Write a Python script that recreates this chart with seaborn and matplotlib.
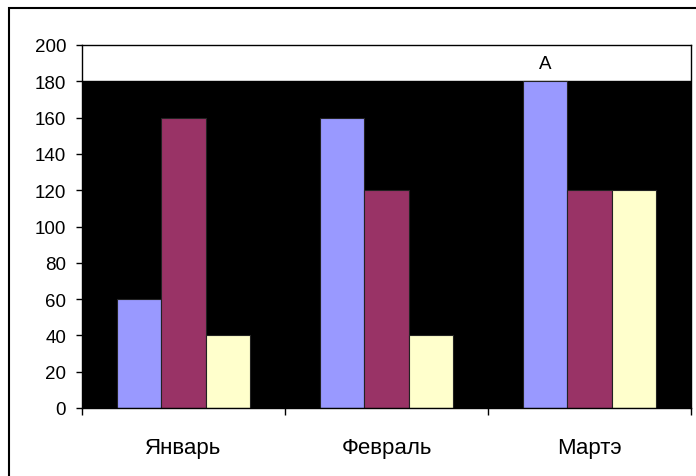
import matplotlib
matplotlib.use("Agg")
import matplotlib.pyplot as plt
import matplotlib.patches as mpatches
import seaborn as sns
import pandas as pd

categories = ["Январь", "Февраль", "Мартэ"]
series = ["S1", "S2", "S3"]
values_s1 = [60, 160, 180]
values_s2 = [160, 120, 120]
values_s3 = [40, 40, 120]
colors = ["#9999FF", "#993366", "#FFFFCC"]
y_ticks = [0, 20, 40, 60, 80, 100, 120, 140, 160, 180, 200]

rows = []
for s, vals in zip(series, [values_s1, values_s2, values_s3]):
    for c, v in zip(categories, vals):
        rows.append({"cat": c, "series": s, "value": v})
df = pd.DataFrame(rows)

sns.set_style("white")
plt.rcParams["font.family"] = ["Liberation Sans", "DejaVu Sans"]
plt.rcParams["text.color"] = "black"
plt.rcParams["xtick.color"] = "black"
plt.rcParams["ytick.color"] = "black"

fig = plt.figure(figsize=(6.96, 4.77), dpi=100)
ax = fig.add_axes([82/696, 1-409/477, (691-82)/696, (409-46)/477])

ax.axhspan(0, 180, color="black", zorder=0)
sns.barplot(data=df, x="cat", y="value", hue="series", order=categories,
            hue_order=series, palette=colors, saturation=1, width=0.66, gap=0,
            edgecolor="#222222", linewidth=0.8, legend=False, ax=ax, zorder=2)

ax.set_xlim(-0.5, 2.5)
ax.set_ylim(0, 200)
ax.set_yticks(y_ticks)
ax.set_yticklabels([str(t) for t in y_ticks], fontsize=13.5)
ax.tick_params(axis="y", direction="out", length=4.5, width=1, color="black", left=True, pad=7)

ax.set_xticks([-0.5, 0.5, 1.5, 2.5])
ax.set_xticklabels([])
ax.tick_params(axis="x", which="major", direction="out", length=5, width=1, color="black", bottom=True)
ax.set_xticks([0, 1, 2], minor=True)
ax.set_xticklabels(categories, minor=True, fontsize=16)
ax.tick_params(axis="x", which="minor", length=0, pad=21)

ax.set_xlabel("")
ax.set_ylabel("")
for sp in ax.spines.values():
    sp.set_visible(True)
    sp.set_color("black")
    sp.set_linewidth(1)

ax.text(2 - 0.22, 190, "A", ha="center", va="center", fontsize=13.5)

rect = mpatches.Rectangle((9/696, -0.1), 1.2, (1 - 9/477) + 0.1,
                          transform=fig.transFigure, fill=False,
                          edgecolor="black", linewidth=1.5, clip_on=False)
fig.patches.append(rect)

fig.savefig("out.png", dpi=100)
